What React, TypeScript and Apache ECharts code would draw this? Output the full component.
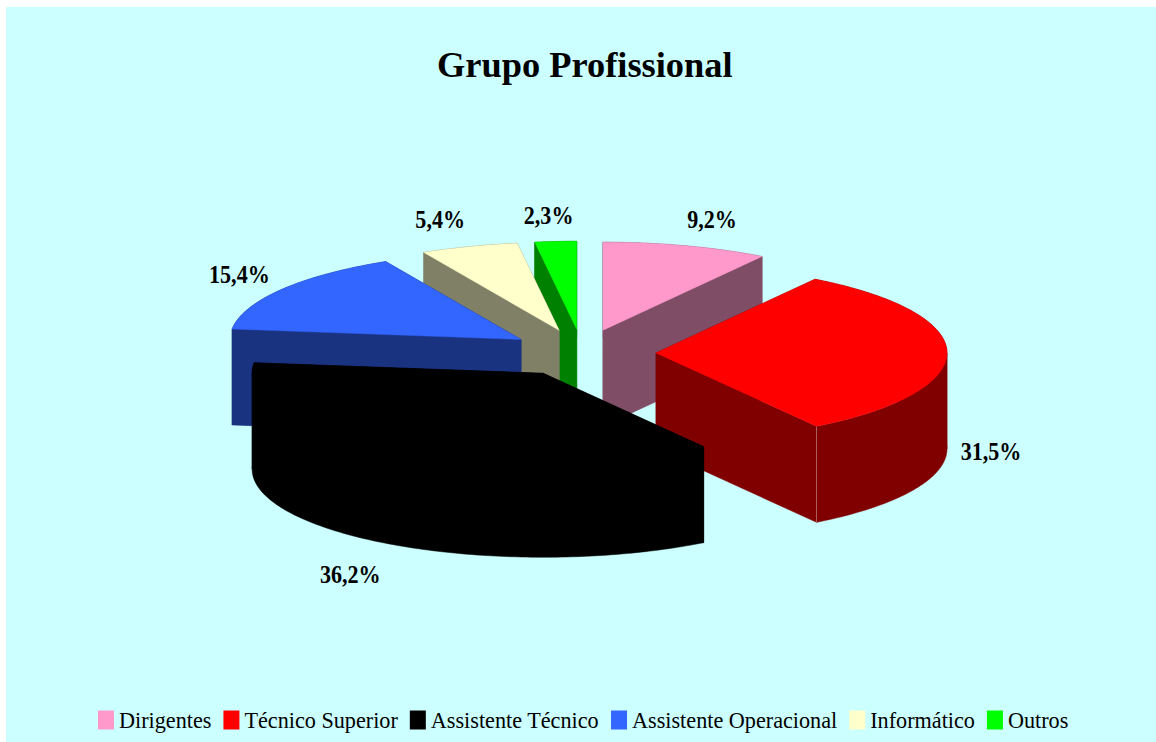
import React, { useEffect, useRef } from "react";
import * as echarts from "echarts";

const chartTitle = "Grupo Profissional";
const categories = ["Dirigentes", "Técnico Superior", "Assistente Técnico", "Assistente Operacional", "Informático", "Outros"];
const shares = [9.2, 31.5, 36.2, 15.4, 5.4, 2.3];
const topColors = ["#FF99CC", "#FF0000", "#000000", "#3366FF", "#FFFFCC", "#00FF00"];
const sideColors = ["#804D66", "#800000", "#000000", "#1A3380", "#808066", "#008000"];
const edgeColors = ["", "#B06060", "", "", "", ""];

// Painter's order, back to front
const drawOrder = [5, 4, 3, 0, 1, 2];

// Layout of the projected pie
const FONT = "'Liberation Serif', serif";
const CX = 582;
const CY = 353;
const RX = 291;
const RY = 88;
const DEPTH = 96;
const EXPLODE_X = 74;
const EXPLODE_Y = 23.8;
const labelNudge: [number, number][] = [
  [26, -26],
  [44, 3],
  [-40, 30],
  [-42, -15],
  [-29, -27],
  [-7, -26],
];

const total = shares.reduce((a, b) => a + b, 0);
const startAngle = (i: number) => (shares.slice(0, i).reduce((a, b) => a + b, 0) / total) * 360;

function renderSlice(i: number) {
  return (_params: any, api: any) => {
    const value = api.value(0) as number;
    const a0 = startAngle(i);
    const a1 = a0 + (value / total) * 360;
    const rad = (d: number) => (d * Math.PI) / 180;
    const mid = rad((a0 + a1) / 2);
    const ax = CX + EXPLODE_X * Math.sin(mid);
    const ay = CY - EXPLODE_Y * Math.cos(mid);
    const at = (d: number): [number, number] => [ax + RX * Math.sin(rad(d)), ay - RY * Math.cos(rad(d))];
    const down = (p: [number, number]): [number, number] => [p[0], p[1] + DEPTH];

    // The outer wall is cut at the ellipse's left and right extremes, so that no piece crosses itself
    const cuts = [a0, ...[90, 270].filter((d) => d > a0 && d < a1), a1];
    const walls: [number, number][][] = [];
    const rim: [number, number][] = [];
    for (let c = 0; c < cuts.length - 1; c++) {
      const steps = Math.max(2, Math.ceil(cuts[c + 1] - cuts[c]));
      const run: [number, number][] = [];
      for (let s = 0; s <= steps; s++) run.push(at(cuts[c] + ((cuts[c + 1] - cuts[c]) * s) / steps));
      walls.push([...run, ...run.slice().reverse().map(down)]);
      rim.push(...(c === 0 ? run : run.slice(1)));
    }

    const apex: [number, number] = [ax, ay];
    const first = rim[0];
    const last = rim[rim.length - 1];
    const sideStyle = { fill: sideColors[i], stroke: sideColors[i], lineWidth: 0.5 };
    const children: any[] = [
      { type: "polygon", shape: { points: [apex, first, down(first), down(apex)] }, style: sideStyle },
      { type: "polygon", shape: { points: [apex, last, down(last), down(apex)] }, style: sideStyle },
      ...walls.map((points) => ({ type: "polygon", shape: { points }, style: sideStyle })),
    ];
    if (edgeColors[i]) {
      children.push({
        type: "line",
        shape: { x1: last[0], y1: last[1], x2: last[0], y2: last[1] + DEPTH },
        style: { stroke: edgeColors[i], lineWidth: 1 },
      });
    }
    children.push({
      type: "polygon",
      shape: { points: [apex, ...rim] },
      style: { fill: topColors[i], stroke: topColors[i], lineWidth: 0.4 },
    });
    const lowerHalf = Math.cos(mid) < 0.1 ? DEPTH : 0;
    children.push({
      type: "text",
      x: ax + RX * Math.sin(mid) + labelNudge[i][0],
      y: ay - RY * Math.cos(mid) + lowerHalf + labelNudge[i][1],
      scaleX: 0.85,
      style: {
        text: value.toFixed(1).replace(".", ",") + "%",
        x: 0,
        y: 0,
        align: "center",
        verticalAlign: "middle",
        font: `bold 26px ${FONT}`,
        fill: "#000000",
      },
    });
    return { type: "group", children };
  };
}

export default function App() {
  const ref = useRef<HTMLDivElement>(null);
  useEffect(() => {
    const chart = echarts.init(ref.current!, undefined, { renderer: "svg" });
    chart.setOption({
      animation: false,
      backgroundColor: "#FFFFFF",
      graphic: [
        {
          type: "rect",
          z: -10,
          silent: true,
          shape: { x: 6, y: 7, width: 1150, height: 735 },
          style: { fill: "#CCFFFF" },
        },
      ],
      title: {
        text: chartTitle,
        left: 437,
        top: 47,
        padding: 0,
        textStyle: { fontFamily: FONT, fontWeight: "bold", fontSize: 36.4, color: "#000000" },
      },
      legend: {
        data: categories,
        left: 98,
        top: 709,
        padding: 0,
        orient: "horizontal",
        icon: "rect",
        itemWidth: 16,
        itemHeight: 19,
        itemGap: 12,
        selectedMode: false,
        textStyle: { fontFamily: FONT, fontSize: 22.2, color: "#000000" },
      },
      series: drawOrder.map((i) => ({
        type: "custom",
        name: categories[i],
        coordinateSystem: "none",
        silent: true,
        itemStyle: { color: topColors[i] },
        data: [[shares[i]]],
        renderItem: renderSlice(i),
      })),
    });
    return () => chart.dispose();
  }, []);
  return <div ref={ref} style={{ position: "fixed", left: 0, top: 0, width: 1156, height: 742 }} />;
}
